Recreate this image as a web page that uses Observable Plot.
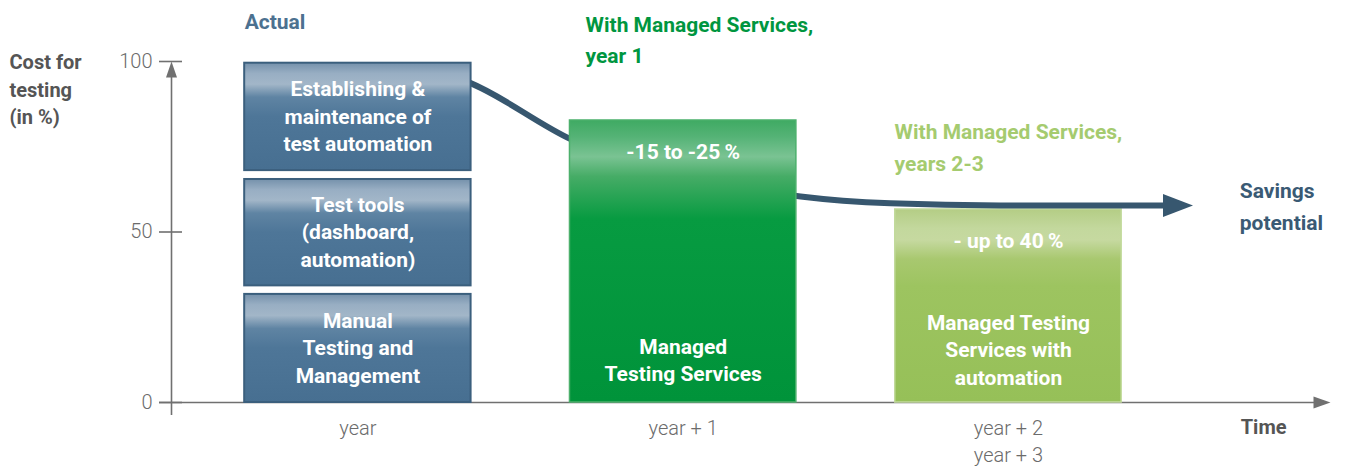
<!DOCTYPE html>
<html><head><meta charset="utf-8">
<script src="https://cdn.jsdelivr.net/npm/d3@7"></script>
<script src="https://cdn.jsdelivr.net/npm/@observablehq/plot@0.6"></script>
<style>body{margin:0;background:#fff} #chart svg{display:block}</style>
</head><body><div id="chart"></div>
<script>
// ---- data ----
const periods = ["year", "year + 1", "year + 2\nyear + 3"];
const periodPos = [0, 1, 2];
const yTicks = [0, 50, 100];
const actualLabels = ["Manual\nTesting and\nManagement", "Test tools\n(dashboard,\nautomation)", "Establishing &\nmaintenance of\ntest automation"];
const actualLow = [0, 34.2, 68.0];
const actualHigh = [31.7, 65.4, 99.5];
const managedTitles = ["With Managed Services,\nyear 1", "With Managed Services,\nyears 2-3"];
const managedValues = [82.7, 56.6];
const managedSavings = ["-15 to -25\u2009%", "- up to 40\u2009%"];
const managedLabels = ["Managed\nTesting Services", "Managed Testing\nServices with\nautomation"];
const managedLabelY = [12.2, 15.2];
const curveX = [0.30, 0.343, 0.657, 1.361, 1.637, 1.975, 2.475];
const curveY = [95.4, 93.8, 77.1, 60.4, 58.4, 57.8, 57.8];

// ---- layout / styles ----
const xDomain = [-0.573, 2.99];
const halfW = 0.348;
const boldFont = "Roboto, 'Open Sans', sans-serif";
const tickFont = "Roboto, sans-serif";
const axisGray = "#707070";
const slate = "#37576f";

const actual = actualLow.map((lo, i) => ({x1: periodPos[0] - halfW, x2: periodPos[0] + halfW, y1: lo, y2: actualHigh[i], label: actualLabels[i], x: periodPos[0], ym: (lo + actualHigh[i]) / 2}));
const managed = managedValues.map((v, i) => ({x: periodPos[i + 1], x1: periodPos[i + 1] - halfW, x2: periodPos[i + 1] + halfW, y: v, savings: managedSavings[i], label: managedLabels[i], labelY: managedLabelY[i]}));
const curve = curveX.map((x, i) => ({x, y: curveY[i]}));
const curveEnd = curve[curve.length - 1];

function tipSymbol(len, half) { // tip at origin, pointing right
  return {draw(ctx) { ctx.moveTo(0, 0); ctx.lineTo(-len, -half); ctx.lineTo(-len, half); ctx.closePath(); }};
}
function baseSymbol(len, half) { // base at origin, pointing right
  return {draw(ctx) { ctx.moveTo(len, 0); ctx.lineTo(0, -half); ctx.lineTo(0, half); ctx.closePath(); }};
}

function defs() {
  const d = d3.create("svg:defs");
  const grad = (id, stops) => {
    const g = d.append("linearGradient").attr("id", id).attr("x1", 0).attr("y1", 0).attr("x2", 0).attr("y2", 1);
    for (const [o, c] of stops) g.append("stop").attr("offset", o).attr("stop-color", c);
  };
  grad("gblue", [[0, "#7591ab"], [0.1, "#98aec3"], [0.2, "#a2b6c8"], [0.32, "#5f84a3"], [0.5, "#4e7698"], [1, "#476f91"]]);
  grad("ggreen", [[0, "#3faa63"], [0.06, "#55b376"], [0.13, "#7ac393"], [0.2, "#46ac66"], [0.35, "#079b41"], [1, "#00933a"]]);
  grad("glight", [[0, "#b4cd85"], [0.1, "#c3d89d"], [0.16, "#c6d9a0"], [0.26, "#a8c86f"], [0.4, "#9dc460"], [1, "#96c058"]]);
  return d.node();
}

const plot = Plot.plot({
  width: 1347, height: 466,
  marginLeft: 171, marginRight: 17, marginTop: 61, marginBottom: 64,
  x: {domain: xDomain, axis: null},
  y: {domain: [0, 100], axis: null},
  style: {fontFamily: boldFont, background: "#fff", color: "#6b6b6b"},
  marks: [
    defs,
    // axes
    Plot.ruleX([xDomain[0]], {stroke: axisGray, strokeWidth: 1.6, insetTop: 10, insetBottom: -13}),
    Plot.ruleY([0], {stroke: axisGray, strokeWidth: 1.6, insetLeft: -12, insetRight: 10}),
    Plot.dot([{x: xDomain[1], y: 0}], {x: "x", y: "y", symbol: tipSymbol(17, 6), fill: axisGray, stroke: "none"}),
    Plot.dot([{x: xDomain[0], y: 100}], {x: "x", y: "y", symbol: tipSymbol(16, 5.5), rotate: -90, fill: axisGray, stroke: "none"}),
    Plot.axisY({ticks: yTicks, tickSize: 23, dx: 11, tickFormat: () => "", stroke: axisGray, strokeWidth: 1.6, label: null}),
    Plot.axisY({ticks: yTicks, tickSize: 0, tickPadding: 19, fontFamily: tickFont, fontWeight: 300, fontSize: 20, fill: "#6b6b6b", label: null}),
    Plot.axisX({ticks: periodPos, tickFormat: i => periods[i], tickSize: 0, tickPadding: 13, fontFamily: tickFont, fontWeight: 300, fontSize: 20, lineHeight: 1.36, fill: "#6b6b6b", label: null}),
    // years 2-3 bar (under the curve)
    Plot.rect(managed.slice(1), {x1: "x1", x2: "x2", y1: 0, y2: "y", fill: "url(#glight)", stroke: "#c2da9c", strokeWidth: 1.5}),
    // savings curve
    Plot.line(curve, {x: "x", y: "y", curve: "monotone-x", stroke: slate, strokeWidth: 6}),
    Plot.dot([curveEnd], {x: "x", y: "y", symbol: baseSymbol(30, 11.5), fill: slate, stroke: "none"}),
    // actual stacked bar
    Plot.rect(actual, {x1: "x1", x2: "x2", y1: "y1", y2: "y2", fill: "url(#gblue)", stroke: "#3b5f7d", strokeWidth: 2}),
    // year 1 bar (over the curve)
    Plot.rect(managed.slice(0, 1), {x1: "x1", x2: "x2", y1: 0, y2: "y", fill: "url(#ggreen)", stroke: "#4cb06c", strokeWidth: 1.5}),
    // bar labels
    Plot.text(actual, {x: "x", y: "ym", dy: -2, text: "label", fill: "white", fontWeight: "bold", fontSize: 21, lineHeight: 1.31}),
    Plot.text(managed, {x: "x", y: d => d.y - 9.4, text: "savings", fill: "white", fontWeight: "bold", fontSize: 21}),
    Plot.text(managed, {x: "x", y: "labelY", dy: -2, text: "label", fill: "white", fontWeight: "bold", fontSize: 21, lineHeight: 1.31}),
    // titles
    Plot.text(["Actual"], {x: periodPos[0] - halfW, y: 111.4, text: d => d, textAnchor: "start", fill: "#4c7190", fontWeight: "bold", fontSize: 21}),
    Plot.text([managedTitles[0]], {x: 0.70, y: 107.0, text: d => d, textAnchor: "start", fill: "#00963f", fontWeight: "bold", fontSize: 21, lineHeight: 1.48}),
    Plot.text([managedTitles[1]], {x: 1.65, y: 75.5, text: d => d, textAnchor: "start", fill: "#a5cb6f", fontWeight: "bold", fontSize: 21, lineHeight: 1.48}),
    Plot.text(["Savings\npotential"], {x: 2.711, y: 58.2, text: d => d, textAnchor: "start", fill: "#3a5a74", fontWeight: "bold", fontSize: 21, lineHeight: 1.48}),
    Plot.text(["Cost for\ntesting\n(in %)"], {x: -1.071, y: 92.3, text: d => d, textAnchor: "start", fill: "#555", fontWeight: "bold", fontSize: 20, lineHeight: 1.37}),
    Plot.text(["Time"], {x: 2.714, y: -7.3, text: d => d, textAnchor: "start", fill: "#555", fontWeight: "bold", fontSize: 20})
  ]
});
document.getElementById("chart").appendChild(plot);
</script>
</body></html>
